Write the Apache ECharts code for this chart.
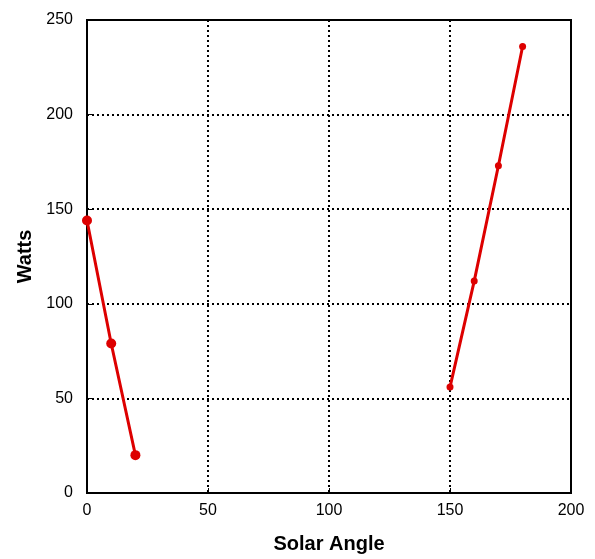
<!DOCTYPE html>
<html>
<head>
<meta charset="utf-8">
<script src="https://cdn.jsdelivr.net/npm/echarts@6/dist/echarts.min.js"></script>
<style>
  html, body { margin: 0; padding: 0; background: #fff; }
  #chart { width: 595px; height: 559px; }
</style>
</head>
<body>
<div id="chart"></div>
<script>
// Power output against solar angle, measured in two sweeps
const morningAngles = [0, 10, 20];
const morningWatts = [144, 79, 20];
const eveningAngles = [150, 160, 170, 180];
const eveningWatts = [56, 112, 173, 236];
const xTicks = [0, 50, 100, 150, 200];
const yTicks = [0, 50, 100, 150, 200, 250];

const lineRed = '#dd0000';
const font = '"Liberation Sans", Arial, sans-serif';

function pairs(xs, ys) {
  return xs.map((x, i) => [x, ys[i]]);
}

const gridLine = { show: true, lineStyle: { color: '#000', type: [2, 3], width: 2 } };

const chart = echarts.init(document.getElementById('chart'));
chart.setOption({
  animation: false,
  backgroundColor: '#fff',
  grid: {
    left: 87, right: 24, top: 20, bottom: 63,
    show: true, borderColor: '#000', borderWidth: 2
  },
  xAxis: {
    type: 'value',
    min: xTicks[0], max: xTicks[xTicks.length - 1], interval: 50,
    name: 'Solar Angle', nameLocation: 'middle', nameGap: 41,
    nameTextStyle: { fontFamily: font, fontWeight: 'bold', fontSize: 20, color: '#000' },
    axisLine: { show: true, lineStyle: { color: '#000', width: 2 } },
    axisTick: { show: true, inside: true, length: 5, lineStyle: { color: '#000' } },
    axisLabel: { fontFamily: font, fontSize: 16, color: '#000', margin: 10 },
    splitLine: gridLine
  },
  yAxis: {
    type: 'value',
    min: yTicks[0], max: yTicks[yTicks.length - 1], interval: 50,
    name: 'Watts', nameLocation: 'middle', nameGap: 44,
    nameTextStyle: { fontFamily: font, fontWeight: 'bold', fontSize: 20, color: '#000' },
    axisLine: { show: true, lineStyle: { color: '#000', width: 2 } },
    axisTick: { show: true, inside: true, length: 5, lineStyle: { color: '#000' } },
    axisLabel: { fontFamily: font, fontSize: 16, color: '#000', margin: 14 },
    splitLine: gridLine
  },
  series: [
    {
      type: 'line',
      data: pairs(morningAngles, morningWatts),
      symbol: 'circle', symbolSize: 10,
      lineStyle: { color: lineRed, width: 3 },
      itemStyle: { color: lineRed }
    },
    {
      type: 'line',
      data: pairs(eveningAngles, eveningWatts),
      symbol: 'circle', symbolSize: 7,
      lineStyle: { color: lineRed, width: 3 },
      itemStyle: { color: lineRed }
    }
  ]
});
</script>
</body>
</html>
